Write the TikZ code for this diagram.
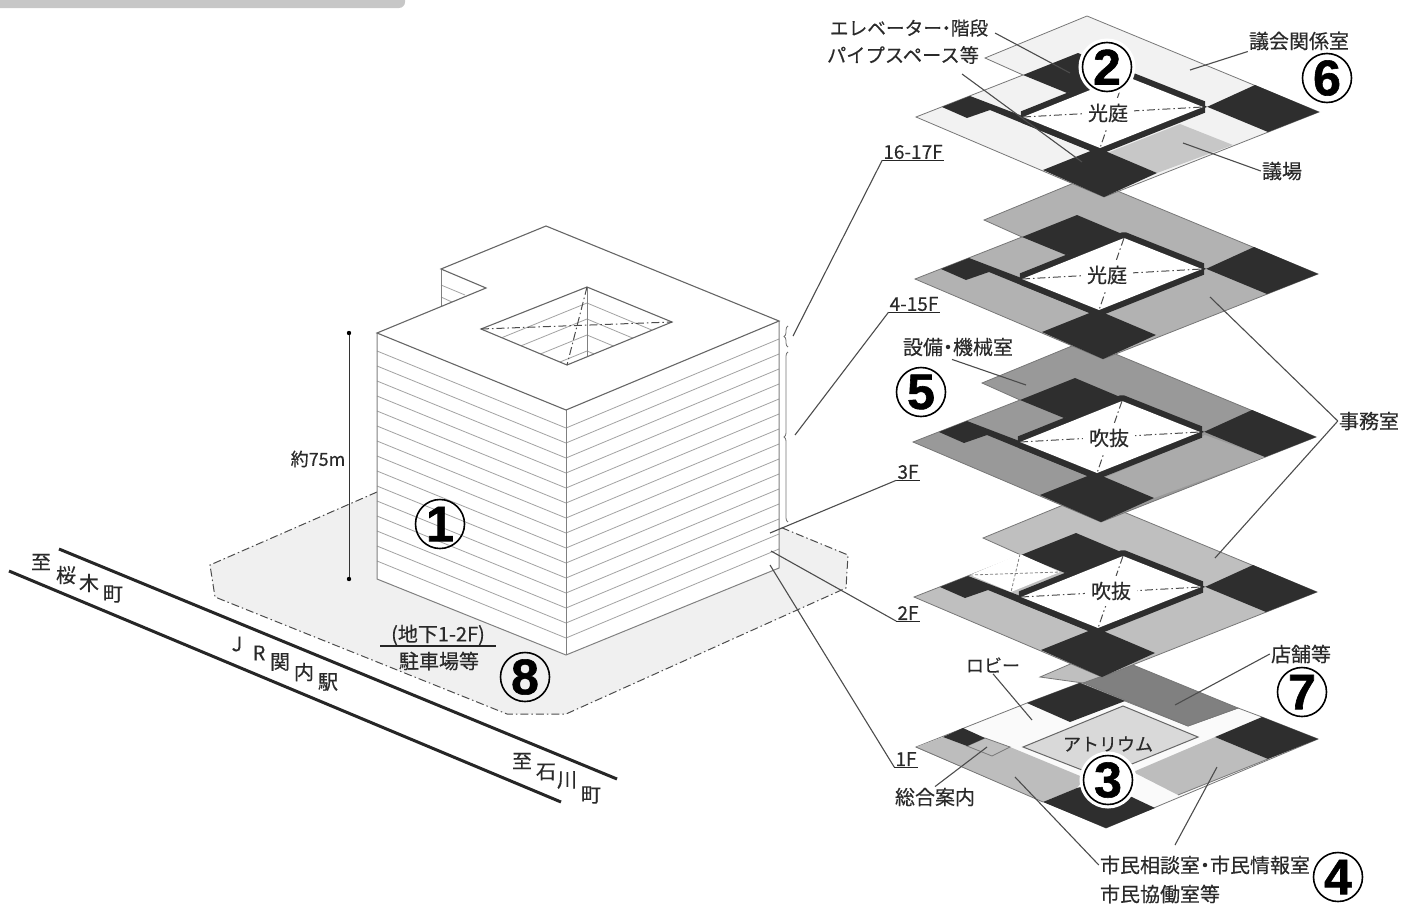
\documentclass[tikz,border=0pt]{standalone}
\usepackage{fontspec}
\setmainfont{Noto Sans CJK JP}[FakeBold=0.35]
\newfontfamily\circfont{Liberation Sans}[BoldFeatures={FakeBold=1.2}]
\usetikzlibrary{decorations.pathreplacing}

\definecolor{coredark}{HTML}{2E2E2E}
\definecolor{edgegrey}{HTML}{777777}
\definecolor{lotgrey}{HTML}{F0F0F0}
\definecolor{textgrey}{HTML}{2A2A2A}

\tikzset{
    px/.style={x=1pt, y=-1pt},
    jptext/.style={font=\fontsize{20}{20}\selectfont, text=textgrey, inner sep=1pt},
    kanatext/.style={font=\fontsize{18}{18}\selectfont, text=textgrey, inner sep=1pt},
    voidtext/.style={jptext, fill=white, inner sep=6pt},
    floorname/.style={font=\fontsize{19}{19}\selectfont, text=textgrey, inner sep=1pt},
    circnum/.style={circle, draw=black, line width=1.6pt, minimum size=49pt, inner sep=0pt,
        font=\circfont\bfseries\fontsize{50}{50}\selectfont},
    halo/.style={preaction={draw=white, line width=8pt}},
    leader/.style={draw=black!70, line width=1.1pt},
    plateedge/.style={draw=edgegrey, line width=0.8pt},
    wallline/.style={draw=black!36, line width=0.8pt},
    wallcorner/.style={draw=black!50, line width=1pt},
    chainline/.style={draw=black!70, line width=1pt, dash pattern=on 8pt off 3pt on 1.5pt off 3pt},
    roadline/.style={draw=black!85, line width=3pt},
}

% Slab of one floor
\newcommand{\plateslab}[1]{
    \fill[#1, plateedge] (1087,16) -- (1319,112) -- (1104,197) -- (916,117)
        -- (1023,75) -- (985,58) -- cycle;
}

% Cores and the ring round the void
\newcommand{\corecells}{
    \draw[coredark, line width=12pt, line join=bevel]
        (1023,117) -- (1125,76) -- (1203,107) -- (1100,148) -- cycle;
    \fill[coredark] (1023,75) -- (1078,53) -- (1135,77) -- (1067,93) -- cycle;
    \fill[coredark] (1255,85) -- (1319,112) -- (1268,132) -- (1198,103) -- (1198,111) -- cycle;
    \fill[coredark] (1043,170) -- (1098,148) -- (1157,173) -- (1104,197) -- cycle;
    \fill[coredark] (942,107) -- (970,96) -- (1025,117) -- (1100,148) -- (1100,155)
        -- (990,110) -- (967,118) -- cycle;
    \fill[white] (1023,117) -- (1125,76) -- (1203,107) -- (1100,148) -- cycle;
    \draw[chainline] (1023,117) -- (1203,107);
    \draw[chainline] (1125,76) -- (1100,148);
}

\begin{document}
\begin{tikzpicture}[px]
    \useasboundingbox (0,0) rectangle (1416,905);

    % Bar at the top
    \fill[black!22, rounded corners=6pt] (-20,-20) rectangle (405,8);

    %% Site and building

    % Lot
    \fill[lotgrey] (377,492) -- (210,565) -- (215,597) -- (507,714) -- (566,714)
        -- (846,588) -- (848,555) -- (780,527) -- cycle;
    \draw[chainline] (377,492) -- (210,565) -- (215,597) -- (507,714) -- (566,714)
        -- (846,588) -- (848,555) -- (780,527);

    % Road
    \draw[roadline] (59,549) -- (617,779);
    \draw[roadline] (9,571) -- (561,802);
    \foreach \ch/\px/\py [count=\i] in {至/41/562, 桜/66/575, 木/89/583, 町/113/594,
            J/237/644, R/259/653, 関/280/662, 内/304/672, 駅/328/682,
            至/522/761, 石/546/772, 川/567/780, 町/591/795}
        \node[jptext] (road\i) at (\px,\py) {\ch};

    % Back wing
    \fill[white] (441,269) -- (486,288) -- (441,307) -- cycle;
    \draw[wallline] (441,285) -- (465,295);
    \draw[wallline] (441,297) -- (452,302);
    \draw[wallcorner] (441,269) -- (441,307);

    % Walls
    \fill[white] (377,333) -- (566,410) -- (779,321) -- (779,568) -- (566,655) -- (377,579) -- cycle;
    \foreach \k in {0,...,14}
        \draw[wallline] (377,351+15*\k) -- (566,428+15*\k) -- (779,339+15*\k);
    \draw[wallcorner] (377,333) -- (377,579) -- (566,655) -- (779,568) -- (779,321);
    \draw[wallcorner] (566,410) -- (566,655);

    % Roof
    \fill[white] (377,333) -- (441,307) -- (486,288) -- (441,269) -- (546,226) -- (779,321) -- (566,410) -- cycle;
    \draw[draw=black!60, line width=1.1pt] (377,333) -- (486,288) -- (441,269) -- (546,226)
        -- (779,321) -- (566,410) -- cycle;

    % Light court in the roof
    \begin{scope}
        \clip (481,329) -- (587,287) -- (672,322) -- (567,365) -- cycle;
        \foreach \k in {1,...,4} {
            \draw[wallline] (587,287+16*\k) -- (447,344+16*\k);
            \draw[wallline] (587,287+16*\k) -- (690,330+16*\k);
        }
        \draw[wallcorner] (587,287) -- (587,356);
    \end{scope}
    \draw[draw=black!60, line width=1.1pt] (481,329) -- (587,287) -- (672,322) -- (567,365) -- cycle;
    \draw[chainline] (481,329) -- (672,322);
    \draw[chainline] (587,287) -- (567,365);

    % Height
    \coordinate (hgttop) at (349,333);
    \coordinate (hgtbot) at (349,579);
    \draw[black!80, line width=1pt] (hgttop) -- (hgtbot);
    \fill (hgttop) circle (2.2);
    \fill (hgtbot) circle (2.2);
    \node[kanatext] (height) at (318,459) {約75m};

    % Braces
    \draw[black!55, line width=0.8pt, decorate, decoration={brace, amplitude=4pt, mirror}]
        (788,326) -- (788,347);
    \draw[black!55, line width=0.8pt, decorate, decoration={brace, amplitude=4pt, mirror}]
        (788,352) -- (788,522);

    %% Floors, from the lowest one up

    % 1F
    \fill[black!25, plateedge] (1040,677) -- (1075,662) -- (1125,683) -- (1083,683) -- cycle;
    \fill[black!2, plateedge] (916,747) -- (1027,703) -- (1080,683) -- (1125,701) -- (1188,726)
        -- (1238,708) -- (1262,717) -- (1318,739) -- (1106,828) -- cycle;
    \fill[black!50, plateedge] (1083,683) -- (1133,665) -- (1238,708) -- (1188,726) -- cycle;
    \fill[black!26] (916,747) -- (943,737) -- (967,746) -- (992,756) -- (1010,747) -- (1085,778)
        -- (1077,788) -- (1043,802) -- cycle;
    \fill[black!26] (1215,737) -- (1268,759) -- (1178,795) -- (1133,772) -- cycle;
    \draw[plateedge] (916,747) -- (1043,802);
    \draw[plateedge] (1268,759) -- (1178,795);
    \fill[black!15, draw=black!60, line width=1pt] (1123,706) -- (1198,737) -- (1100,777) -- (1023,747) -- cycle;
    \fill[black!25, plateedge] (967,746) -- (985,738) -- (1010,747) -- (992,756) -- cycle;
    \fill[coredark] (1027,703) -- (1080,683) -- (1125,701) -- (1070,722) -- cycle;
    \fill[coredark] (1215,737) -- (1262,717) -- (1318,739) -- (1268,759) -- cycle;
    \fill[coredark] (1043,802) -- (1077,788) -- (1100,782) -- (1155,808) -- (1106,828) -- cycle;
    \fill[coredark] (943,737) -- (963,728) -- (985,738) -- (967,746) -- cycle;

    % 2F
    \begin{scope}[shift={(-2,480)}]
        \plateslab{black!25}
        \corecells
        \fill[white] (972,95) -- (1022,74) -- (1062,92) -- (1013,112) -- cycle;
        \draw[black!50, line width=0.8pt, densely dashed] (972,95) -- (1062,92);
        \draw[black!50, line width=0.8pt, densely dashed] (1022,74) -- (1013,112);
    \end{scope}

    % 3F
    \begin{scope}[shift={(-3,325)}]
        \plateslab{black!40}
        \fill[black!33] (1107,153) -- (1208,110) -- (1268,132) -- (1157,173) -- cycle;
        \corecells
    \end{scope}

    % 4-15F
    \begin{scope}[shift={(-1,162)}]
        \plateslab{black!30}
        \corecells
    \end{scope}

    % 16-17F
    \plateslab{black!5}
    \fill[black!22] (1107,153) -- (1180,124) -- (1233,145) -- (1157,173) -- cycle;
    \corecells

    %% Floor names

    \node[floorname] (fl16) at (913,152) {16-17F};
    \node[floorname] (fl4) at (914,304) {4-15F};
    \node[floorname] (fl3) at (908,472) {3F};
    \node[floorname] (fl2) at (908,613) {2F};
    \node[floorname] (fl1) at (906,759) {1F};
    \foreach \fl in {fl16,fl4,fl3,fl2,fl1}
        \draw[black!85, line width=1.2pt] (\fl.south west) -- (\fl.south east);

    \coordinate (brace16) at (793,336);
    \coordinate (brace4) at (795,435);
    \coordinate (wall3) at (770,533);
    \coordinate (wall2) at (771,551);
    \coordinate (wall1) at (770,565);
    \draw[leader] (brace16) -- (fl16.south west);
    \draw[leader] (brace4) -- (fl4.south west);
    \draw[leader] (wall3) -- (fl3.south west);
    \draw[leader] (wall2) -- (fl2.south west);
    \draw[leader] (wall1) -- (fl1.south west);

    %% Room names

    \node[font=\fontsize{18.7}{19}\selectfont, text=textgrey, inner sep=1pt] (core1) at (909,28) {エレベーター\kern-5pt・\kern-5pt 階段};
    \node[font=\fontsize{19.3}{19}\selectfont, text=textgrey, inner sep=1pt] (core2) at (903,55) {パイプスペース等};
    \node[jptext] (council) at (1299,41) {議会関係室};
    \node[jptext] (chamber) at (1282,171) {議場};
    \node[voidtext] (court1) at (1108,113) {光庭};
    \node[voidtext] (court2) at (1107,275) {光庭};
    \node[voidtext] (void3) at (1109,438) {吹抜};
    \node[voidtext] (void2) at (1111,591) {吹抜};
    \node[jptext] (plant) at (958,347) {設備\kern-5pt・\kern-5pt 機械室};
    \node[jptext] (office) at (1369,421) {事務室};
    \node[jptext] (shop) at (1301,654) {店舗等};
    \node[kanatext] (lobby) at (993,665) {ロビー};
    \node[kanatext] (atrium) at (1108,744) {アトリウム};
    \node[jptext] (info) at (935,797) {総合案内};
    \node[jptext] (citizen1) at (1205,865) {市民相談室\kern-5pt・\kern-5pt 市民情報室};
    \node[jptext] (citizen2) at (1160,894) {市民協働室等};
    \node[jptext] (basement) at (438,635) {(地下1-2F)};
    \node[jptext] (parking) at (439,661) {駐車場等};
    \draw[black!85, line width=1.2pt] (380,646) -- (496,646);

    % Leaders
    \coordinate (elevfrom) at (995,33);
    \coordinate (elevto) at (1070,73);
    \coordinate (pipefrom) at (962,74);
    \coordinate (pipeto) at (1082,162);
    \coordinate (councilto) at (1190,70);
    \coordinate (chamberto) at (1183,143);
    \coordinate (plantto) at (1026,385);
    \coordinate (officeto1) at (1210,297);
    \coordinate (officeto2) at (1215,558);
    \coordinate (shopto) at (1175,705);
    \coordinate (lobbyto) at (1032,720);
    \coordinate (infoto) at (987,747);
    \coordinate (citizenfrom) at (1175,845);
    \coordinate (citizento1) at (1015,777);
    \coordinate (citizento2) at (1217,767);
    \draw[leader] (elevfrom) -- (elevto);
    \draw[leader] (pipefrom) -- (pipeto);
    \draw[leader] (council.south west) -- (councilto);
    \draw[leader] (chamber.west) -- (chamberto);
    \draw[leader] (plant.south) ++(-6,2) -- (plantto);
    \draw[leader] (office.west) -- (officeto1);
    \draw[leader] (office.west) -- (officeto2);
    \draw[leader] (shop.west) -- (shopto);
    \draw[leader] (lobby.south) -- (lobbyto);
    \draw[leader] (info.north) -- (infoto);
    \draw[leader] (citizen1.west) -- (citizento1);
    \draw[leader] (citizenfrom) -- (citizento2);

    %% Circled numbers

    \node[circnum] (num1) at (440,524) {1};
    \node[circnum, halo, fill=white] (num2) at (1107,67) {2};
    \node[circnum, halo, fill=white] (num3) at (1108,780) {3};
    \node[circnum] (num4) at (1338,877) {4};
    \node[circnum] (num5) at (921,392) {5};
    \node[circnum] (num6) at (1327,78) {6};
    \node[circnum] (num7) at (1302,692) {7};
    \node[circnum] (num8) at (525,677) {8};

\end{tikzpicture}
\end{document}
